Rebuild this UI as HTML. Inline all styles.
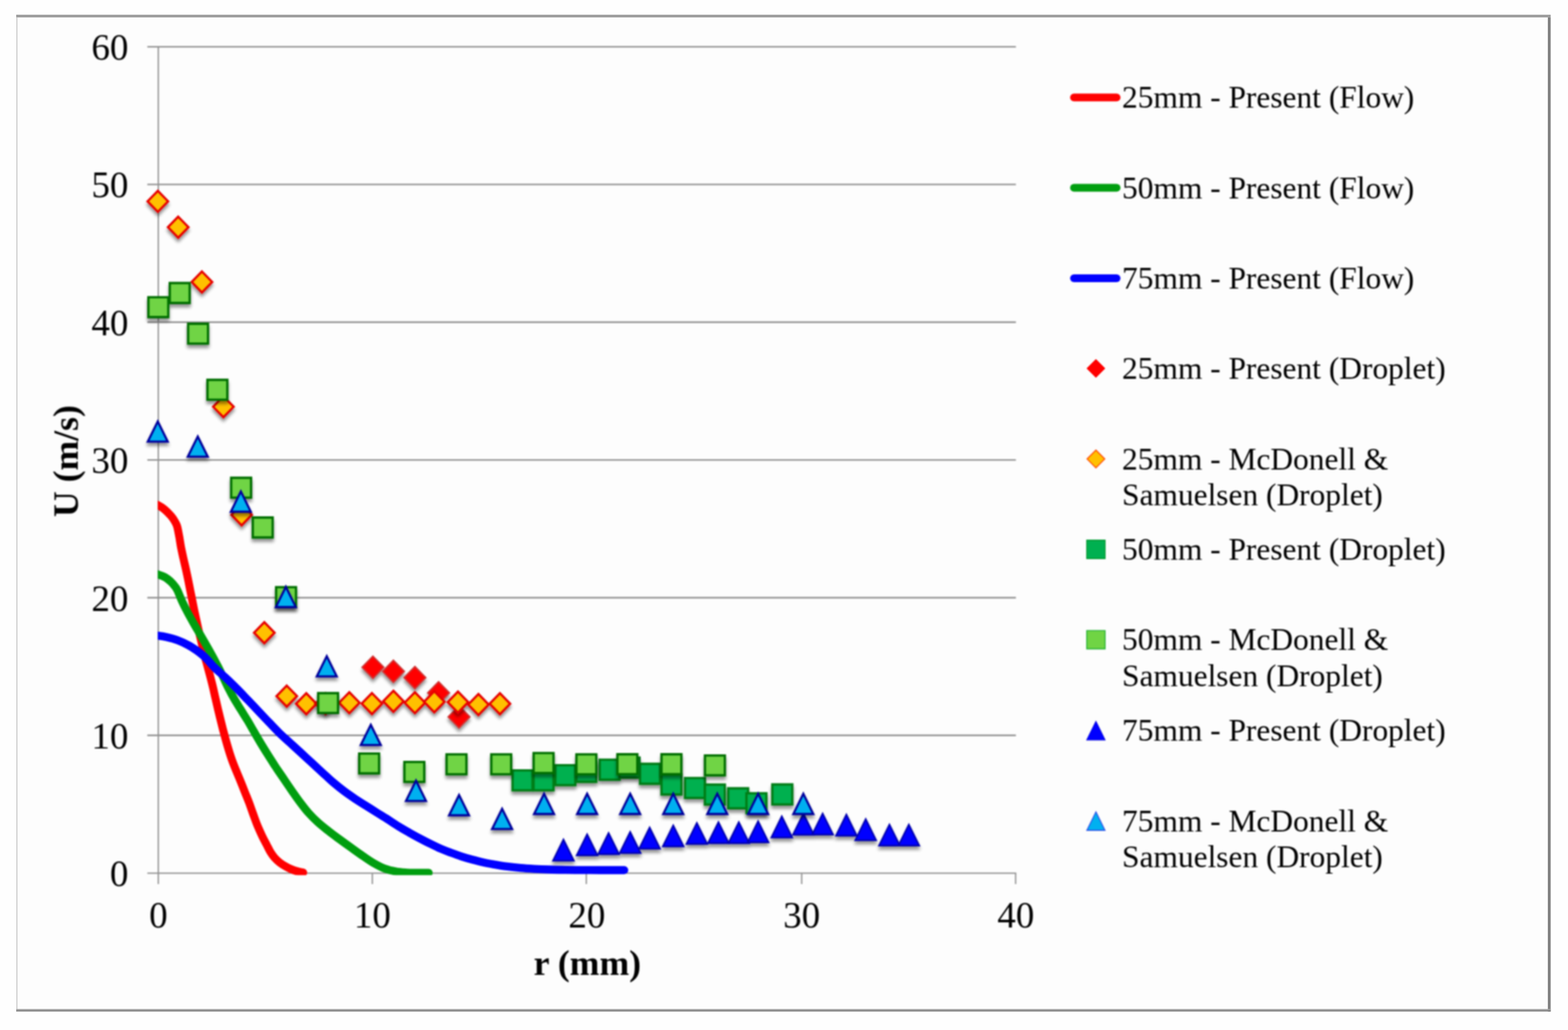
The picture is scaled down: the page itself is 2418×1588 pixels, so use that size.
<!DOCTYPE html>
<html lang="en"><head><meta charset="utf-8"><title>U (m/s) vs r (mm)</title>
<style>
html,body{margin:0;padding:0;background:#fefefe;}
body{width:2418px;height:1588px;overflow:hidden;}
svg{display:block;}
text{font-family:"Liberation Serif","Times New Roman",Times,serif;fill:#000;}
.tick{font-size:57px;}
.ttl{font-size:55px;font-weight:bold;}
.lg{font-size:48.45px;}
</style></head><body>
<svg width="2418" height="1588" viewBox="0 0 2418 1588">
<defs>
<filter id="sh" x="-40%" y="-40%" width="180%" height="200%"><feGaussianBlur in="SourceAlpha" stdDeviation="2.6"/><feOffset dx="0" dy="5" result="b"/><feComponentTransfer><feFuncA type="linear" slope="0.42"/></feComponentTransfer><feMerge><feMergeNode/><feMergeNode in="SourceGraphic"/></feMerge></filter>
<clipPath id="pc"><rect x="243.2" y="40" width="1400" height="1309.2"/></clipPath>
<filter id="soft" filterUnits="userSpaceOnUse" x="0" y="0" width="2418" height="1588" color-interpolation-filters="sRGB"><feGaussianBlur stdDeviation="0.9"/></filter>
</defs>
<rect x="0" y="0" width="2418" height="1588" fill="#fefefe"/>
<rect x="26" y="24.5" width="2363" height="1533" fill="#fdfdfd"/>
<rect x="25" y="22.7" width="2366.3" height="4.1" fill="#9b9b9b"/>
<rect x="25.1" y="26.8" width="2" height="1529" fill="#d2d2d2"/>
<rect x="2386.9" y="26.8" width="4.4" height="1532.7" fill="#818181"/>
<rect x="25" y="1555.6" width="2366.3" height="2" fill="#a4a4a4"/>
<rect x="25" y="1557.3" width="2366.3" height="2.2" fill="#818181"/>
<g filter="url(#soft)">
<g stroke="#8f8f8f" stroke-width="2.4" fill="none">
<line x1="227.2" x2="1566.6" y1="1133.8" y2="1133.8"/>
<line x1="227.2" x2="1566.6" y1="921.5" y2="921.5"/>
<line x1="227.2" x2="1566.6" y1="709.1" y2="709.1"/>
<line x1="227.2" x2="1566.6" y1="496.8" y2="496.8"/>
<line x1="227.2" x2="1566.6" y1="284.4" y2="284.4"/>
<line x1="227.2" x2="1566.6" y1="72.1" y2="72.1"/>
</g>
<g stroke="#8f8f8f" stroke-width="2" fill="none">
<line x1="244.15" x2="244.15" y1="71.1" y2="1363"/>
<line x1="227.2" x2="1567.2" y1="1346.2" y2="1346.2"/>
<line x1="574.20" x2="574.20" y1="1346.2" y2="1363"/>
<line x1="904.15" x2="904.15" y1="1346.2" y2="1363"/>
<line x1="1236.30" x2="1236.30" y1="1346.2" y2="1363"/>
<line x1="1566.20" x2="1566.20" y1="1346.2" y2="1363"/>
</g>
<g fill="none" stroke-width="12.3" stroke-linecap="round" stroke-linejoin="round" clip-path="url(#pc)">
<path stroke="#ff0000" d="M235.4,775.6C236.7,776.1 240.4,777.1 243.4,778.7C246.4,780.3 250.1,782.4 253.5,785.2C256.9,788.0 260.9,792.2 263.6,795.3C266.3,798.4 267.9,800.9 269.5,803.7C271.1,806.5 272.2,808.1 273.3,812.0C274.4,815.9 275.4,821.9 276.4,827.2C277.4,832.5 278.1,838.4 279.2,844.0C280.3,849.6 281.6,855.3 282.8,860.8C284.0,866.3 285.4,871.7 286.6,877.2C287.8,882.7 289.0,888.1 290.1,893.6C291.2,899.1 292.3,904.8 293.4,910.4C294.5,916.0 295.7,921.6 296.8,927.2C297.9,932.8 299.0,938.4 300.2,944.0C301.4,949.6 302.6,955.2 303.9,960.8C305.1,966.4 306.4,972.1 307.7,977.6C309.0,983.1 310.2,988.1 311.5,993.6C312.8,999.1 314.1,1004.8 315.5,1010.4C316.9,1016.0 318.5,1021.6 320.0,1027.2C321.5,1032.8 323.1,1038.5 324.5,1044.0C325.9,1049.5 327.3,1054.9 328.6,1060.4C329.9,1065.9 331.1,1071.7 332.4,1077.2C333.7,1082.7 334.9,1088.1 336.2,1093.6C337.5,1099.1 338.9,1104.8 340.3,1110.4C341.7,1116.0 343.0,1121.6 344.5,1127.2C346.0,1132.8 347.5,1138.4 349.1,1144.0C350.7,1149.6 352.5,1155.8 354.1,1160.8C355.7,1165.8 356.9,1169.5 358.5,1173.8C360.1,1178.1 361.6,1181.8 363.6,1186.8C365.6,1191.8 368.3,1198.0 370.6,1203.6C372.9,1209.2 375.1,1214.8 377.3,1220.4C379.5,1226.0 381.9,1231.6 384.0,1237.2C386.1,1242.8 387.9,1248.4 390.0,1254.0C392.1,1259.6 394.0,1265.3 396.3,1271.0C398.6,1276.7 401.4,1282.8 403.8,1288.0C406.2,1293.2 408.8,1297.8 411.0,1302.0C413.2,1306.2 414.9,1310.1 417.0,1313.5C419.1,1316.9 421.1,1319.8 423.5,1322.5C425.9,1325.2 428.7,1327.8 431.5,1330.0C434.3,1332.2 437.5,1334.1 440.4,1335.8C443.3,1337.5 446.0,1338.8 448.8,1340.0C451.6,1341.2 454.1,1342.1 457.2,1343.0C460.3,1343.9 465.8,1344.9 467.5,1345.3"/>
<path stroke="#009e0f" d="M235.4,883.7C236.7,884.0 240.1,884.5 243.4,885.6C246.7,886.7 251.8,888.4 255.2,890.3C258.6,892.2 261.2,894.8 263.6,897.0C266.0,899.2 267.8,901.5 269.5,903.7C271.2,905.9 271.8,906.5 273.7,910.4C275.6,914.3 278.2,921.6 280.8,927.2C283.4,932.8 286.3,938.5 289.2,944.0C292.1,949.5 295.2,955.0 298.3,960.5C301.4,966.0 304.8,971.7 308.0,977.2C311.2,982.7 314.3,988.1 317.5,993.6C320.7,999.1 323.9,1004.8 327.0,1010.4C330.1,1016.0 333.0,1021.6 335.9,1027.2C338.8,1032.8 341.5,1038.5 344.2,1044.0C346.9,1049.5 349.2,1055.0 352.0,1060.5C354.8,1066.0 357.8,1071.7 361.0,1077.2C364.2,1082.7 367.6,1088.1 371.0,1093.6C374.4,1099.1 378.1,1104.8 381.5,1110.4C384.9,1116.0 387.9,1121.6 391.2,1127.2C394.4,1132.8 397.6,1138.4 401.0,1144.0C404.4,1149.6 407.8,1155.2 411.3,1160.8C414.8,1166.4 419.1,1173.1 422.0,1177.6C424.9,1182.0 425.6,1183.2 428.5,1187.5C431.4,1191.8 435.8,1198.1 439.5,1203.6C443.2,1209.1 447.1,1214.8 451.0,1220.4C454.9,1226.0 458.8,1231.7 463.0,1237.2C467.2,1242.7 471.4,1248.4 476.0,1253.5C480.6,1258.6 485.3,1263.3 490.5,1268.0C495.7,1272.7 501.6,1277.2 507.0,1281.5C512.4,1285.8 517.3,1289.3 523.0,1293.5C528.7,1297.7 534.8,1302.1 541.0,1306.5C547.2,1310.9 554.0,1315.9 560.0,1320.0C566.0,1324.1 571.2,1327.8 576.8,1331.0C582.4,1334.2 588.0,1337.2 593.6,1339.3C599.2,1341.4 604.8,1342.6 610.4,1343.6C616.0,1344.6 621.6,1344.9 627.2,1345.3C632.8,1345.7 638.4,1345.6 644.0,1345.7C649.6,1345.8 658.2,1345.7 661.1,1345.7"/>
<path stroke="#0000ff" d="M235.2,979.2C236.5,979.3 239.5,979.5 243.2,980.0C246.8,980.5 251.7,981.1 256.8,982.3C261.9,983.5 268.0,985.0 273.6,987.1C279.2,989.2 285.5,992.1 290.4,994.7C295.3,997.3 299.1,999.9 303.0,1002.6C306.9,1005.3 310.3,1008.0 313.5,1010.8C316.7,1013.6 319.2,1016.5 322.0,1019.5C324.8,1022.5 325.7,1024.3 330.0,1028.5C334.3,1032.7 342.6,1039.9 347.6,1044.5C352.6,1049.1 356.1,1052.5 360.0,1056.3C363.9,1060.1 367.1,1063.4 370.8,1067.3C374.6,1071.2 377.6,1074.5 382.5,1079.6C387.4,1084.7 394.6,1092.3 400.0,1098.0C405.4,1103.7 410.0,1108.6 415.0,1113.8C420.0,1119.0 424.8,1124.2 430.0,1129.3C435.2,1134.4 440.9,1139.4 446.5,1144.5C452.1,1149.6 458.5,1155.4 463.6,1160.1C468.7,1164.8 472.5,1168.3 477.0,1172.5C481.5,1176.7 486.3,1181.2 490.5,1185.0C494.7,1188.8 498.1,1192.0 502.0,1195.5C505.9,1199.0 508.9,1202.0 513.6,1206.0C518.3,1210.0 524.8,1215.3 530.4,1219.5C536.0,1223.7 541.6,1227.5 547.2,1231.3C552.8,1235.0 558.4,1238.5 564.0,1242.0C569.6,1245.5 575.2,1249.1 580.8,1252.6C586.4,1256.1 592.0,1259.4 597.6,1263.0C603.2,1266.6 608.9,1270.5 614.5,1274.0C620.1,1277.5 625.7,1280.6 631.3,1283.8C636.9,1287.0 642.5,1290.0 648.1,1293.0C653.7,1296.0 659.6,1299.0 664.9,1301.6C670.2,1304.2 675.1,1306.6 680.0,1308.7C684.9,1310.8 689.3,1312.5 694.5,1314.4C699.7,1316.3 705.7,1318.5 711.3,1320.3C716.9,1322.1 722.5,1323.8 728.1,1325.3C733.7,1326.8 739.4,1328.3 744.9,1329.5C750.4,1330.7 754.8,1331.5 761.0,1332.6C767.2,1333.7 775.0,1335.0 782.0,1335.9C789.0,1336.8 796.0,1337.6 803.0,1338.2C810.0,1338.8 817.0,1339.2 824.0,1339.6C831.0,1340.0 838.0,1340.3 845.0,1340.5C852.0,1340.7 859.0,1340.9 866.0,1341.0C873.0,1341.1 877.2,1341.2 887.0,1341.3C896.8,1341.4 912.4,1341.5 925.0,1341.5C937.6,1341.5 956.4,1341.5 962.7,1341.5"/>
</g>
<g filter="url(#sh)" fill="#ff0000" stroke="#cf3232" stroke-width="2.3">
<path d="M575.1,1011.7 L591.8,1028.8 L575.1,1045.9 L558.4,1028.8Z"/>
<path d="M606.7,1018.0 L623.4,1035.1 L606.7,1052.2 L590.0,1035.1Z"/>
<path d="M639.8,1027.6 L656.5,1044.7 L639.8,1061.8 L623.1,1044.7Z"/>
<path d="M676.3,1051.1 L693.0,1068.2 L676.3,1085.3 L659.6,1068.2Z"/>
<path d="M707.9,1088.1 L724.6,1105.2 L707.9,1122.3 L691.2,1105.2Z"/>
</g>
<g filter="url(#sh)" fill="#ffc000" stroke="#e60000" stroke-width="3.5">
<path d="M243.4,294.2 L259.2,310.4 L243.4,326.6 L227.6,310.4Z"/>
<path d="M274.8,334.1 L290.6,350.3 L274.8,366.5 L259.0,350.3Z"/>
<path d="M311.4,418.6 L327.2,434.8 L311.4,451.0 L295.6,434.8Z"/>
<path d="M344.5,610.9 L360.3,627.1 L344.5,643.3 L328.7,627.1Z"/>
<path d="M372.6,777.6 L388.4,793.8 L372.6,810.0 L356.8,793.8Z"/>
<path d="M407.6,959.3 L423.4,975.5 L407.6,991.7 L391.8,975.5Z"/>
<path d="M442.2,1057.1 L458.0,1073.3 L442.2,1089.5 L426.4,1073.3Z"/>
<path d="M472.3,1068.8 L488.1,1085.0 L472.3,1101.2 L456.5,1085.0Z"/>
<path d="M502.0,1068.8 L517.8,1085.0 L502.0,1101.2 L486.2,1085.0Z"/>
<path d="M538.7,1067.2 L554.5,1083.4 L538.7,1099.6 L522.9,1083.4Z"/>
<path d="M573.6,1068.6 L589.4,1084.8 L573.6,1101.0 L557.8,1084.8Z"/>
<path d="M606.7,1065.0 L622.5,1081.2 L606.7,1097.4 L590.9,1081.2Z"/>
<path d="M639.8,1067.2 L655.6,1083.4 L639.8,1099.6 L624.0,1083.4Z"/>
<path d="M669.7,1065.8 L685.5,1082.0 L669.7,1098.2 L653.9,1082.0Z"/>
<path d="M706.2,1066.3 L722.0,1082.5 L706.2,1098.7 L690.4,1082.5Z"/>
<path d="M737.8,1070.0 L753.6,1086.2 L737.8,1102.4 L722.0,1086.2Z"/>
<path d="M770.9,1068.8 L786.7,1085.0 L770.9,1101.2 L755.1,1085.0Z"/>
</g>
<g filter="url(#sh)" fill="#00b050" stroke="#007c14" stroke-width="3.6">
<path d="M790.4,1187.7 h30.8 v30.8 h-30.8Z"/>
<path d="M822.8,1187.7 h30.8 v30.8 h-30.8Z"/>
<path d="M856.4,1179.7 h30.8 v30.8 h-30.8Z"/>
<path d="M888.8,1174.6 h30.8 v30.8 h-30.8Z"/>
<path d="M924.8,1171.3 h30.8 v30.8 h-30.8Z"/>
<path d="M955.4,1168.1 h30.8 v30.8 h-30.8Z"/>
<path d="M987.0,1177.6 h30.8 v30.8 h-30.8Z"/>
<path d="M1020.1,1194.1 h30.8 v30.8 h-30.8Z"/>
<path d="M1056.3,1199.5 h30.8 v30.8 h-30.8Z"/>
<path d="M1087.0,1209.6 h30.8 v30.8 h-30.8Z"/>
<path d="M1122.9,1215.4 h30.8 v30.8 h-30.8Z"/>
<path d="M1151.1,1223.0 h30.8 v30.8 h-30.8Z"/>
<path d="M1191.0,1209.4 h30.8 v30.8 h-30.8Z"/>
</g>
<g filter="url(#sh)" fill="#70d444" stroke="#006e06" stroke-width="3.6">
<path d="M228.8,458.2 h30.7 v30.7 h-30.7Z"/>
<path d="M261.8,436.4 h30.7 v30.7 h-30.7Z"/>
<path d="M290.1,499.1 h30.7 v30.7 h-30.7Z"/>
<path d="M319.9,585.6 h30.7 v30.7 h-30.7Z"/>
<path d="M356.5,736.6 h30.7 v30.7 h-30.7Z"/>
<path d="M389.8,797.9 h30.7 v30.7 h-30.7Z"/>
<path d="M425.8,905.2 h30.7 v30.7 h-30.7Z"/>
<path d="M490.6,1068.6 h30.7 v30.7 h-30.7Z"/>
<path d="M553.9,1161.7 h30.7 v30.7 h-30.7Z"/>
<path d="M623.6,1174.8 h30.7 v30.7 h-30.7Z"/>
<path d="M688.6,1163.0 h30.7 v30.7 h-30.7Z"/>
<path d="M757.6,1163.0 h30.7 v30.7 h-30.7Z"/>
<path d="M822.9,1161.0 h30.7 v30.7 h-30.7Z"/>
<path d="M888.9,1163.0 h30.7 v30.7 h-30.7Z"/>
<path d="M952.1,1162.9 h30.7 v30.7 h-30.7Z"/>
<path d="M1020.1,1162.9 h30.7 v30.7 h-30.7Z"/>
<path d="M1087.1,1164.7 h30.7 v30.7 h-30.7Z"/>
</g>
<g filter="url(#sh)" fill="#0000ff" stroke="#0000b0" stroke-width="2.5">
<path d="M868.9,1294.3 L885.0,1326.9 L852.8,1326.9Z"/>
<path d="M905.4,1286.2 L921.5,1318.8 L889.3,1318.8Z"/>
<path d="M938.5,1284.4 L954.6,1317.0 L922.4,1317.0Z"/>
<path d="M971.8,1282.6 L987.9,1315.2 L955.7,1315.2Z"/>
<path d="M1001.8,1275.9 L1017.9,1308.5 L985.7,1308.5Z"/>
<path d="M1038.2,1272.5 L1054.3,1305.1 L1022.1,1305.1Z"/>
<path d="M1074.6,1268.7 L1090.7,1301.3 L1058.5,1301.3Z"/>
<path d="M1107.9,1267.5 L1124.0,1300.1 L1091.8,1300.1Z"/>
<path d="M1139.3,1267.5 L1155.4,1300.1 L1123.2,1300.1Z"/>
<path d="M1169.1,1266.1 L1185.2,1298.7 L1153.0,1298.7Z"/>
<path d="M1205.6,1258.6 L1221.7,1291.2 L1189.5,1291.2Z"/>
<path d="M1238.9,1254.4 L1255.0,1287.0 L1222.8,1287.0Z"/>
<path d="M1268.6,1254.2 L1284.7,1286.8 L1252.5,1286.8Z"/>
<path d="M1305.2,1255.9 L1321.3,1288.5 L1289.1,1288.5Z"/>
<path d="M1335.0,1262.8 L1351.1,1295.4 L1318.9,1295.4Z"/>
<path d="M1371.6,1271.2 L1387.7,1303.8 L1355.5,1303.8Z"/>
<path d="M1401.5,1271.2 L1417.6,1303.8 L1385.4,1303.8Z"/>
</g>
<g filter="url(#sh)" fill="#00b0f0" stroke="#00009c" stroke-width="3.3">
<path d="M243.3,649.7 L258.7,680.9 L227.9,680.9Z"/>
<path d="M305.0,673.0 L320.4,704.2 L289.6,704.2Z"/>
<path d="M371.4,757.8 L386.8,789.0 L356.0,789.0Z"/>
<path d="M440.8,904.8 L456.2,936.0 L425.4,936.0Z"/>
<path d="M503.9,1011.7 L519.3,1042.9 L488.5,1042.9Z"/>
<path d="M571.8,1117.5 L587.2,1148.7 L556.4,1148.7Z"/>
<path d="M641.5,1203.6 L656.9,1234.8 L626.1,1234.8Z"/>
<path d="M707.9,1225.8 L723.3,1257.0 L692.5,1257.0Z"/>
<path d="M774.3,1247.0 L789.7,1278.2 L758.9,1278.2Z"/>
<path d="M839.0,1223.8 L854.4,1255.0 L823.6,1255.0Z"/>
<path d="M905.4,1223.8 L920.8,1255.0 L890.0,1255.0Z"/>
<path d="M971.8,1223.8 L987.2,1255.0 L956.4,1255.0Z"/>
<path d="M1038.2,1223.8 L1053.6,1255.0 L1022.8,1255.0Z"/>
<path d="M1106.1,1223.8 L1121.5,1255.0 L1090.7,1255.0Z"/>
<path d="M1169.1,1223.8 L1184.5,1255.0 L1153.7,1255.0Z"/>
<path d="M1238.8,1223.8 L1254.2,1255.0 L1223.4,1255.0Z"/>
</g>
<text class="tick" x="198" y="1366.2" text-anchor="end">0</text>
<text class="tick" x="198" y="1153.8" text-anchor="end">10</text>
<text class="tick" x="198" y="941.5" text-anchor="end">20</text>
<text class="tick" x="198" y="729.1" text-anchor="end">30</text>
<text class="tick" x="198" y="516.8" text-anchor="end">40</text>
<text class="tick" x="198" y="304.4" text-anchor="end">50</text>
<text class="tick" x="198" y="92.1" text-anchor="end">60</text>
<text class="tick" x="244.2" y="1430" text-anchor="middle">0</text>
<text class="tick" x="574.2" y="1430" text-anchor="middle">10</text>
<text class="tick" x="905.0" y="1430" text-anchor="middle">20</text>
<text class="tick" x="1236.3" y="1430" text-anchor="middle">30</text>
<text class="tick" x="1566.5" y="1430" text-anchor="middle">40</text>
<text class="ttl" x="905.8" y="1503" text-anchor="middle">r (mm)</text>
<text class="ttl" transform="translate(119.9,710.9) rotate(-90)" text-anchor="middle">U (m/s)</text>
<line x1="1656.2" x2="1721.9" y1="150.2" y2="150.2" stroke="#ff0000" stroke-width="12" stroke-linecap="round"/>
<line x1="1656.2" x2="1721.9" y1="289.6" y2="289.6" stroke="#009e0f" stroke-width="12" stroke-linecap="round"/>
<line x1="1656.2" x2="1721.9" y1="428.9" y2="428.9" stroke="#0000ff" stroke-width="12" stroke-linecap="round"/>
<path d="M1690.0,554.0 L1704.0,568.0 L1690.0,582.0 L1676.0,568.0Z" fill="#ff0000" stroke="#ff0000" stroke-width="1"/>
<path d="M1690.0,693.9 L1703.7,707.6 L1690.0,721.3 L1676.3,707.6Z" fill="#ffc000" stroke="#ff4a00" stroke-width="1.6"/>
<path d="M1675.9,832.9 h28.2 v28.2 h-28.2Z" fill="#00b050" stroke="#009a30" stroke-width="1.6"/>
<path d="M1675.9,972.2 h28.2 v28.2 h-28.2Z" fill="#70d444" stroke="#22b030" stroke-width="1.6"/>
<path d="M1690.0,1112.0 L1704.2,1140.8 L1675.8,1140.8Z" fill="#0000ff" stroke="#0000e0" stroke-width="1.2"/>
<path d="M1690.0,1251.7 L1704.0,1280.1 L1676.0,1280.1Z" fill="#00b0f0" stroke="#2a50e8" stroke-width="1.6"/>
<text class="lg" x="1730.3" y="166.2">25mm - Present (Flow)</text>
<text class="lg" x="1730.3" y="305.6">50mm - Present (Flow)</text>
<text class="lg" x="1730.3" y="444.9">75mm - Present (Flow)</text>
<text class="lg" x="1730.3" y="584.0">25mm - Present (Droplet)</text>
<text class="lg" x="1730.3" y="723.6">25mm - McDonell &amp;</text>
<text class="lg" x="1730.3" y="779.2">Samuelsen (Droplet)</text>
<text class="lg" x="1730.3" y="863.0">50mm - Present (Droplet)</text>
<text class="lg" x="1730.3" y="1002.3">50mm - McDonell &amp;</text>
<text class="lg" x="1730.3" y="1057.9">Samuelsen (Droplet)</text>
<text class="lg" x="1730.3" y="1142.0">75mm - Present (Droplet)</text>
<text class="lg" x="1730.3" y="1281.5">75mm - McDonell &amp;</text>
<text class="lg" x="1730.3" y="1337.1">Samuelsen (Droplet)</text>
</g>
</svg>
</body></html>
